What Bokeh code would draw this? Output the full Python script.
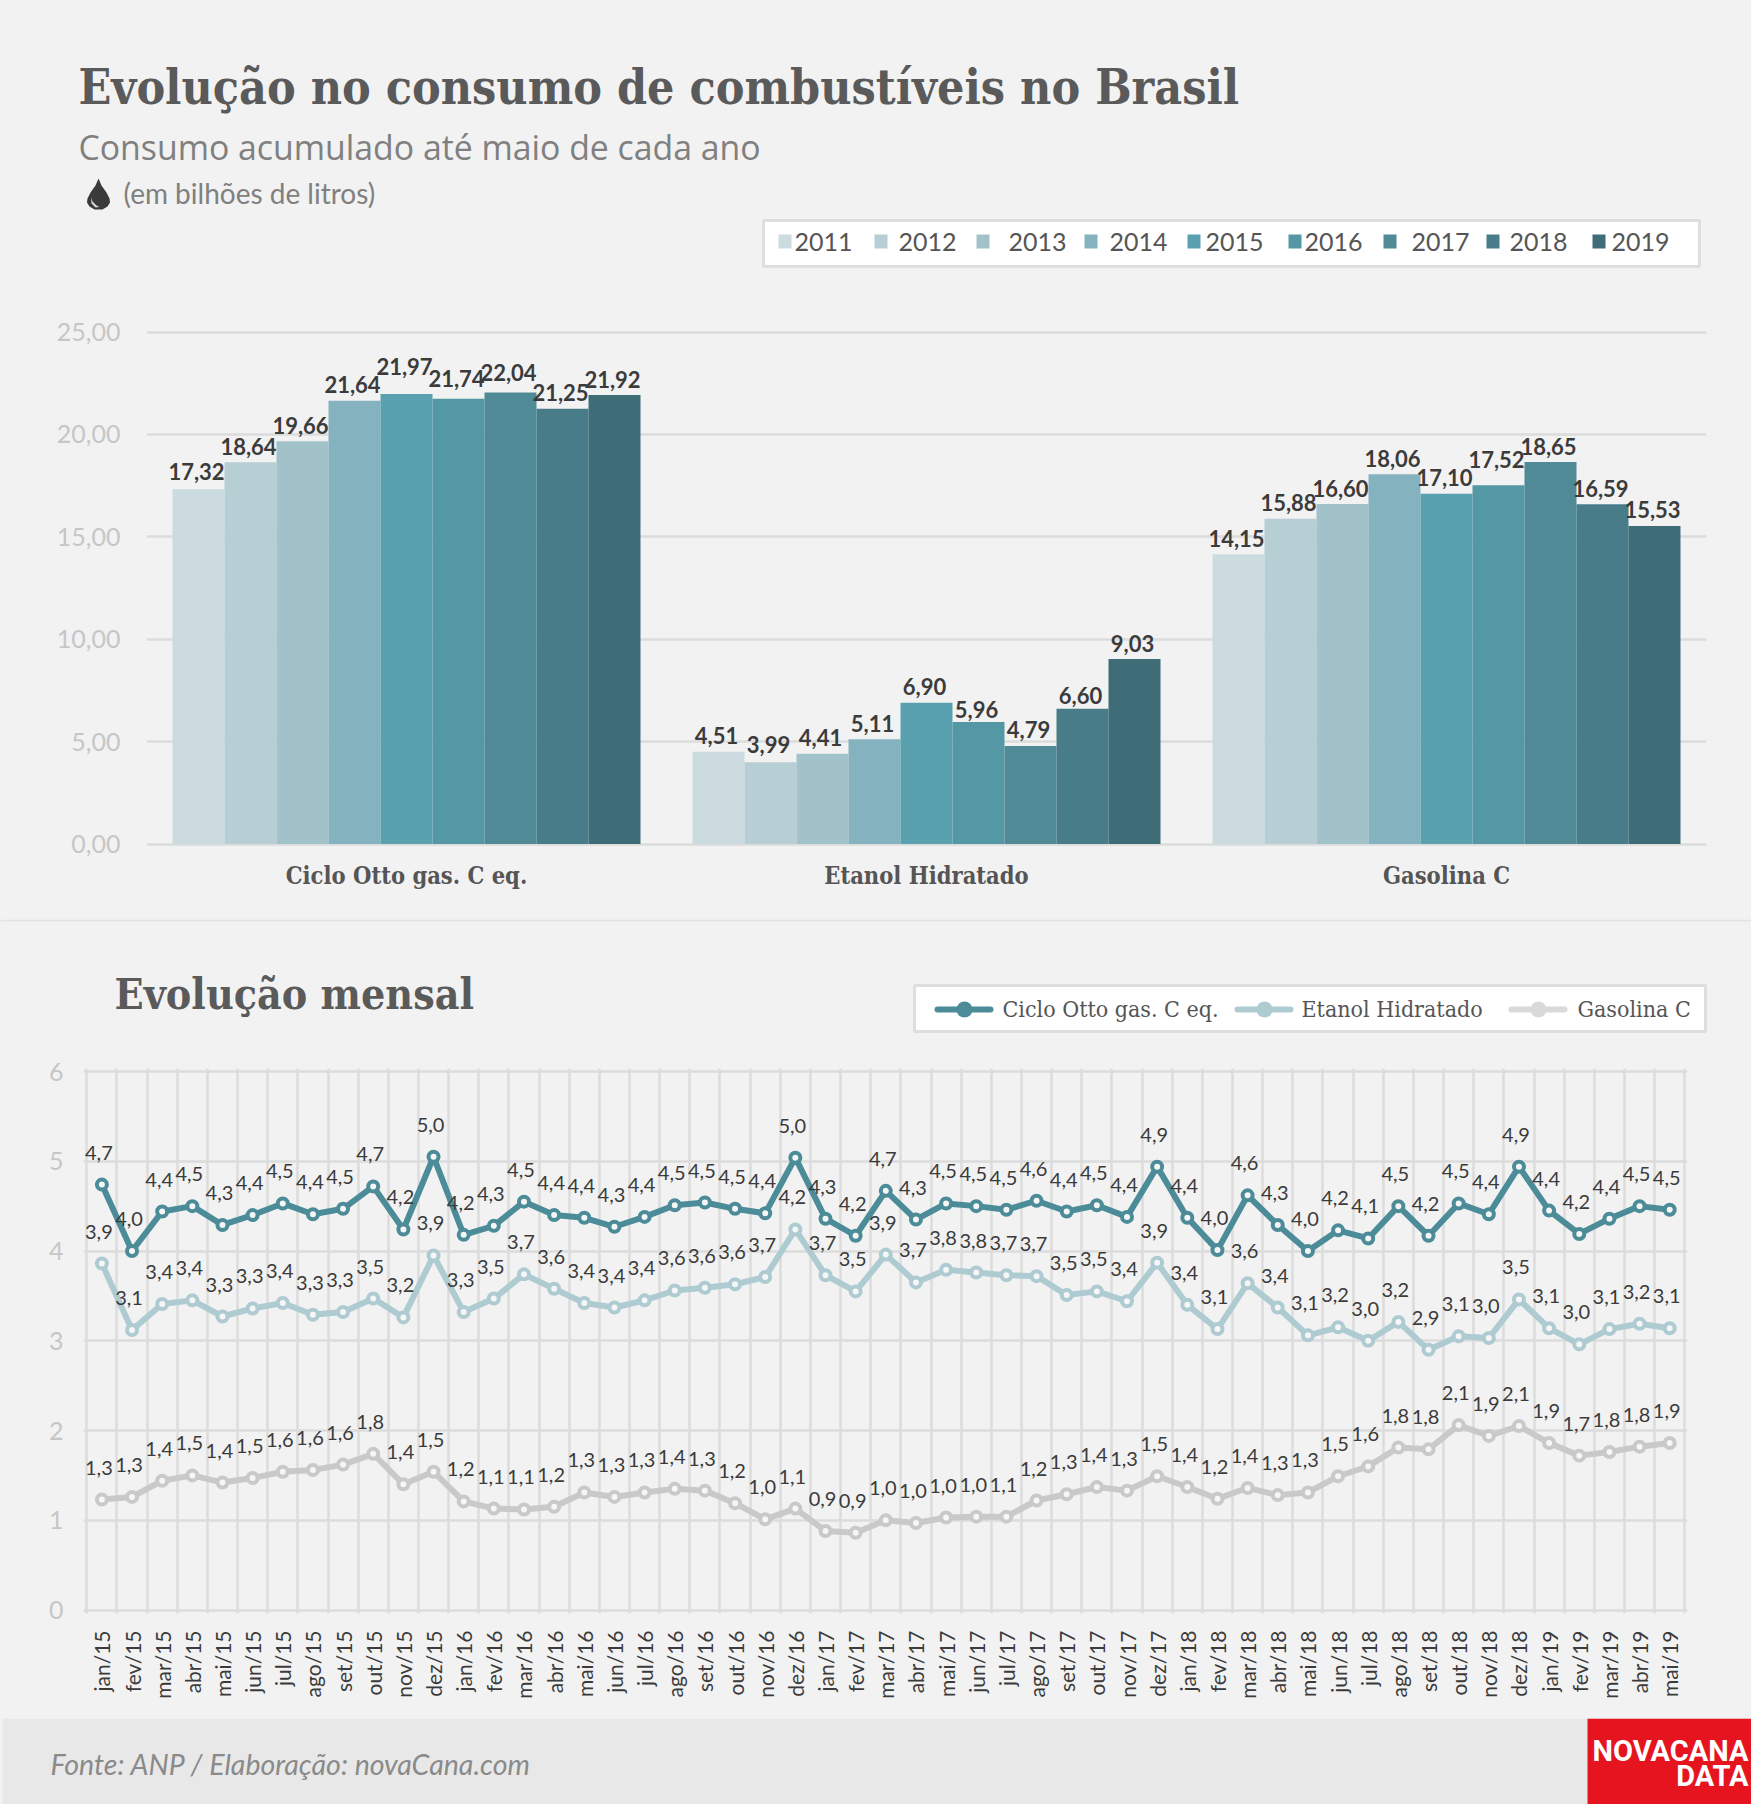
import math

from bokeh.core.properties import value
from bokeh.embed import file_html
from bokeh.layouts import column
from bokeh.models import (BoxAnnotation, ColumnDataSource, FixedTicker, Label, LabelSet,
                          PolyAnnotation, Range1d)
from bokeh.plotting import figure
from bokeh.resources import INLINE

# ---------- data ----------
years = ["2011", "2012", "2013", "2014", "2015", "2016", "2017", "2018", "2019"]
fuels = ["Ciclo Otto gas. C eq.", "Etanol Hidratado", "Gasolina C"]
otto_year = [17.32, 18.64, 19.66, 21.64, 21.97, 21.74, 22.04, 21.25, 21.92]
etanol_year = [4.51, 3.99, 4.41, 5.11, 6.90, 5.96, 4.79, 6.60, 9.03]
gasolina_year = [14.15, 15.88, 16.60, 18.06, 17.10, 17.52, 18.65, 16.59, 15.53]
y_ticks_top = [0, 5, 10, 15, 20, 25]
y_labels_top = ["0,00", "5,00", "10,00", "15,00", "20,00", "25,00"]

months = ["jan/15", "fev/15", "mar/15", "abr/15", "mai/15", "jun/15", "jul/15", "ago/15", "set/15", "out/15", "nov/15", "dez/15",
          "jan/16", "fev/16", "mar/16", "abr/16", "mai/16", "jun/16", "jul/16", "ago/16", "set/16", "out/16", "nov/16", "dez/16",
          "jan/17", "fev/17", "mar/17", "abr/17", "mai/17", "jun/17", "jul/17", "ago/17", "set/17", "out/17", "nov/17", "dez/17",
          "jan/18", "fev/18", "mar/18", "abr/18", "mai/18", "jun/18", "jul/18", "ago/18", "set/18", "out/18", "nov/18", "dez/18",
          "jan/19", "fev/19", "mar/19", "abr/19", "mai/19"]
otto_month = [4.74, 4.00, 4.44, 4.50, 4.29, 4.40, 4.53, 4.41, 4.47, 4.72, 4.24, 5.05,
              4.18, 4.28, 4.55, 4.40, 4.37, 4.27, 4.38, 4.51, 4.54, 4.47, 4.42, 5.04,
              4.36, 4.17, 4.67, 4.35, 4.53, 4.50, 4.46, 4.56, 4.44, 4.51, 4.38, 4.94,
              4.37, 4.01, 4.62, 4.29, 4.00, 4.23, 4.14, 4.50, 4.17, 4.53, 4.41, 4.94,
              4.45, 4.19, 4.36, 4.50, 4.46]
etanol_month = [3.86, 3.12, 3.41, 3.45, 3.27, 3.36, 3.42, 3.29, 3.32, 3.47, 3.26, 3.95,
                3.32, 3.47, 3.74, 3.58, 3.42, 3.37, 3.45, 3.56, 3.59, 3.63, 3.71, 4.24,
                3.73, 3.55, 3.96, 3.65, 3.79, 3.76, 3.73, 3.72, 3.51, 3.55, 3.44, 3.87,
                3.40, 3.13, 3.64, 3.37, 3.06, 3.15, 3.00, 3.21, 2.90, 3.05, 3.03, 3.46,
                3.14, 2.96, 3.13, 3.19, 3.14]
gasolina_month = [1.23, 1.26, 1.44, 1.50, 1.42, 1.47, 1.54, 1.56, 1.62, 1.74, 1.40, 1.54,
                  1.21, 1.13, 1.12, 1.15, 1.31, 1.26, 1.31, 1.35, 1.33, 1.19, 1.01, 1.13,
                  0.88, 0.86, 1.00, 0.97, 1.03, 1.04, 1.04, 1.22, 1.29, 1.37, 1.33, 1.49,
                  1.37, 1.24, 1.36, 1.28, 1.31, 1.49, 1.60, 1.81, 1.79, 2.06, 1.94, 2.05,
                  1.86, 1.72, 1.76, 1.82, 1.86]
otto_text = ["4,7", "4,0", "4,4", "4,5", "4,3", "4,4", "4,5", "4,4", "4,5", "4,7", "4,2", "5,0",
             "4,2", "4,3", "4,5", "4,4", "4,4", "4,3", "4,4", "4,5", "4,5", "4,5", "4,4", "5,0",
             "4,3", "4,2", "4,7", "4,3", "4,5", "4,5", "4,5", "4,6", "4,4", "4,5", "4,4", "4,9",
             "4,4", "4,0", "4,6", "4,3", "4,0", "4,2", "4,1", "4,5", "4,2", "4,5", "4,4", "4,9",
             "4,4", "4,2", "4,4", "4,5", "4,5"]
etanol_text = ["3,9", "3,1", "3,4", "3,4", "3,3", "3,3", "3,4", "3,3", "3,3", "3,5", "3,2", "3,9",
               "3,3", "3,5", "3,7", "3,6", "3,4", "3,4", "3,4", "3,6", "3,6", "3,6", "3,7", "4,2",
               "3,7", "3,5", "3,9", "3,7", "3,8", "3,8", "3,7", "3,7", "3,5", "3,5", "3,4", "3,9",
               "3,4", "3,1", "3,6", "3,4", "3,1", "3,2", "3,0", "3,2", "2,9", "3,1", "3,0", "3,5",
               "3,1", "3,0", "3,1", "3,2", "3,1"]
gasolina_text = ["1,3", "1,3", "1,4", "1,5", "1,4", "1,5", "1,6", "1,6", "1,6", "1,8", "1,4", "1,5",
                 "1,2", "1,1", "1,1", "1,2", "1,3", "1,3", "1,3", "1,4", "1,3", "1,2", "1,0", "1,1",
                 "0,9", "0,9", "1,0", "1,0", "1,0", "1,0", "1,1", "1,2", "1,3", "1,4", "1,3", "1,5",
                 "1,4", "1,2", "1,4", "1,3", "1,3", "1,5", "1,6", "1,8", "1,8", "2,1", "1,9", "2,1",
                 "1,9", "1,7", "1,8", "1,8", "1,9"]
y_ticks_bottom = [0, 1, 2, 3, 4, 5, 6]

# ---------- styles ----------
BG = "#f2f2f2"
GRID = "#dcdcdc"
AXIS_TXT = "#c6c6c6"
DARK = "#3b3b3b"
SLAB = "DejaVu Serif Condensed"
SANS = "Lato"
year_colors = ["#ccdbe0", "#b7ced5", "#a1c2c9", "#84b2be", "#5aa1af", "#5497a5", "#508a97", "#477c88", "#3e6d78"]
OTTO_C, ETANOL_C, GAS_C = "#4c8c99", "#aecbd2", "#c9c9c9"
# (group, year index) -> extra lift of a bar label, as laid out in the reference
label_lift = {(0, 0): 2, (0, 4): 12, (0, 5): 4, (0, 6): 4, (2, 5): 10, (1, 1): 2, (1, 5): -4, (1, 7): -3}


def txt(p, text, x, y, size, color, font=SANS, style="normal", align="left"):
    p.add_layout(Label(x=x, y=y, text=text,
                       text_font=font, text_font_size=f"{size}px", text_font_style=style,
                       text_color=color, text_align=align, text_baseline="middle"))


def box(p, left, right, top, bottom, fill, line=None, lw=0, radius=0):
    p.add_layout(BoxAnnotation(left=left, right=right, top=top, bottom=bottom,
                               fill_color=fill, fill_alpha=1,
                               line_color=line, line_alpha=1 if line else 0, line_width=lw,
                               border_radius=radius, editable=False))


def strip(y0, y1):
    """A page band whose frame fills it, with data units equal to page pixels."""
    p = figure(width=1751, height=y1 - y0, x_range=Range1d(0, 1751), y_range=Range1d(y1, y0),
               toolbar_location=None, output_backend="svg", x_axis_location=None,
               y_axis_location=None, min_border=0, frame_align=False,
               background_fill_color=BG, border_fill_color=BG, outline_line_color=None)
    p.xgrid.visible = False
    p.ygrid.visible = False
    return p


def base_fig(height, left, right, top, bottom, xr, yr):
    p = figure(width=1751, height=height, x_range=xr, y_range=yr, toolbar_location=None,
               output_backend="svg", min_border_left=left, min_border_right=right,
               min_border_top=top, min_border_bottom=bottom, frame_align=False,
               background_fill_color=BG, border_fill_color=BG, outline_line_color=None)
    for ax in (p.xaxis[0], p.yaxis[0]):
        ax.axis_line_color = None
        ax.major_tick_line_color = None
        ax.minor_tick_line_color = None
    return p


# ---------- header ----------
head = strip(0, 300)
txt(head, "Evolução no consumo de combustíveis no Brasil", 78, 86, 47.9, "#5a5a5a", SLAB, "bold")
txt(head, "Consumo acumulado até maio de cada ano", 78, 146, 33.8, "#808080", "Open Sans")
txt(head, "(em bilhões de litros)", 123, 192, 28, "#808080", SANS)
head.add_layout(PolyAnnotation(
    xs=[98, 101, 106, 109, 109.5, 107, 102, 94, 89, 86.5, 87, 90, 95],
    ys=[178, 185, 192, 198, 202, 206, 209, 209, 206, 202, 198, 192, 185],
    fill_color="#3a3a3a", fill_alpha=1, line_color=None, editable=False))
head.add_layout(PolyAnnotation(
    xs=[90.5, 92, 96, 99, 95, 91],
    ys=[197, 201, 205, 206.5, 207, 203],
    fill_color="#d8d8d8", fill_alpha=1, line_color=None, editable=False))
box(head, 763, 1699, 220, 266, "#ffffff", "#dedede", 3)
sq_left = [778, 874, 976, 1084, 1187, 1288, 1383, 1486, 1592]
txt_left = [794, 898, 1008, 1109, 1205, 1304, 1411, 1509, 1611]
for y_, c_, sx, tx in zip(years, year_colors, sq_left, txt_left):
    box(head, sx, sx + 13, 234, 248, c_)
    txt(head, y_, tx, 241, 25, "#555555")

# ---------- top chart ----------
top = base_fig(619, 146, 45, 29, 72, Range1d(0, 3), Range1d(-3.5 / 20.48, 25 + 2.5 / 20.48))
top.ygrid.ticker = FixedTicker(ticks=y_ticks_top)
top.ygrid.grid_line_color = GRID
top.ygrid.grid_line_width = 2.5
top.xgrid.grid_line_color = None

top.yaxis[0].ticker = FixedTicker(ticks=y_ticks_top)
top.yaxis[0].major_label_overrides = dict(zip(y_ticks_top, y_labels_top))
top.yaxis[0].major_label_text_font = SANS
top.yaxis[0].major_label_text_font_size = "25px"
top.yaxis[0].major_label_text_color = AXIS_TXT
top.yaxis[0].major_label_standoff = 20

centers = [0.5, 1.5, 2.5]
top.xaxis[0].ticker = FixedTicker(ticks=centers)
top.xaxis[0].major_label_overrides = dict(zip(centers, fuels))
top.xaxis[0].major_label_text_font = SLAB
top.xaxis[0].major_label_text_font_style = "bold"
top.xaxis[0].major_label_text_font_size = "23.5px"
top.xaxis[0].major_label_text_color = "#555555"
top.xaxis[0].major_label_standoff = 8

for g, vals in enumerate([otto_year, etanol_year, gasolina_year]):
    xs = [centers[g] + (j - 4) * 0.1 for j in range(len(years))]
    src = ColumnDataSource(dict(x=xs, top=vals, c=year_colors,
                                dy=[16 + label_lift.get((g, j), 0) for j in range(len(years))],
                                t=[f"{v:.2f}".replace(".", ",") for v in vals]))
    top.vbar(x="x", top="top", bottom=0, width=0.1, fill_color="c", line_color=None, source=src)
    top.add_layout(LabelSet(x="x", y="top", text="t", source=src, x_offset=-2, y_offset="dy",
                            text_font=value(SANS), text_font_style="bold", text_font_size="22px",
                            text_color=DARK, text_align="center", text_baseline="middle"))

# ---------- second heading ----------
mid = strip(919, 1050)
box(mid, 0, 1751, 919, 921, "#e3e3e3")
txt(mid, "Evolução mensal", 114, 993, 42.5, "#5a5a5a", SLAB, "bold")
box(mid, 914, 1705, 985, 1031, "#ffffff", "#dedede", 3)
legend_items = [(fuels[0], OTTO_C, 934, 1002), (fuels[1], ETANOL_C, 1234, 1301), (fuels[2], "#d9d9d9", 1508, 1577)]
for name, col, lx, tx in legend_items:
    box(mid, lx, lx + 59, 1006, 1012, col, radius=3)
    box(mid, lx + 22, lx + 38, 1001, 1017, col, radius=8)
    txt(mid, name, tx, 1008, 23, "#555555", SLAB)

# ---------- bottom chart ----------
n = len(months)
bot = base_fig(668, 83, 64, 18, 105,
               Range1d(-3.3 / 30.15, n + 2.7 / 30.15), Range1d(-3.5 / 89.75, 6 + 3 / 89.75))
xpos = [i + 0.5 for i in range(n)]
bot.xgrid.ticker = FixedTicker(ticks=list(range(n + 1)))
bot.ygrid.ticker = FixedTicker(ticks=y_ticks_bottom)
for g_ in (bot.xgrid, bot.ygrid):
    g_.grid_line_color = GRID
    g_.grid_line_width = 2.5

bot.yaxis[0].ticker = FixedTicker(ticks=y_ticks_bottom)
bot.yaxis[0].major_label_text_font = SANS
bot.yaxis[0].major_label_text_font_size = "25px"
bot.yaxis[0].major_label_text_color = AXIS_TXT
bot.yaxis[0].major_label_standoff = 14

bot.xaxis[0].ticker = FixedTicker(ticks=xpos)
bot.xaxis[0].major_label_overrides = dict(zip(xpos, months))
bot.xaxis[0].major_label_orientation = math.pi / 2
bot.xaxis[0].major_label_text_font = SANS
bot.xaxis[0].major_label_text_font_size = "21px"
bot.xaxis[0].major_label_text_color = DARK
bot.xaxis[0].major_label_standoff = 11

for vals, labs, col in [(gasolina_month, gasolina_text, GAS_C),
                        (etanol_month, etanol_text, ETANOL_C),
                        (otto_month, otto_text, OTTO_C)]:
    src = ColumnDataSource(dict(x=xpos, y=vals, t=labs))
    bot.line("x", "y", source=src, line_color=col, line_width=6, line_join="round")
    bot.scatter("x", "y", source=src, size=10, marker="circle", fill_color="#f6f6f6",
                line_color=col, line_width=4)
    bot.add_layout(LabelSet(x="x", y="y", text="t", source=src, x_offset=-3, y_offset=32,
                            text_font=value(SANS), text_font_size="20px", text_color=DARK,
                            text_align="center", text_baseline="middle"))

# ---------- footer ----------
foot = strip(1718, 1804)
box(foot, 2, 1751, 1718, 1804, "#e8e8e8")
txt(foot, "Fonte: ANP  / Elaboração: novaCana.com", 50, 1763, 28.5, "#8a8a8a", SANS, "italic")
box(foot, 1587, 1751, 1718, 1804, "#e5141f")
txt(foot, "NOVACANA", 1748, 1750, 29, "#ffffff", "Roboto", "bold", "right")
txt(foot, "DATA", 1748, 1775, 29, "#ffffff", "Roboto", "bold", "right")

page = column(head, top, mid, bot, foot, spacing=0,
              styles={"position": "absolute", "left": "0px", "top": "0px", "background-color": BG})
open("out.html", "w").write(file_html(page, INLINE))
